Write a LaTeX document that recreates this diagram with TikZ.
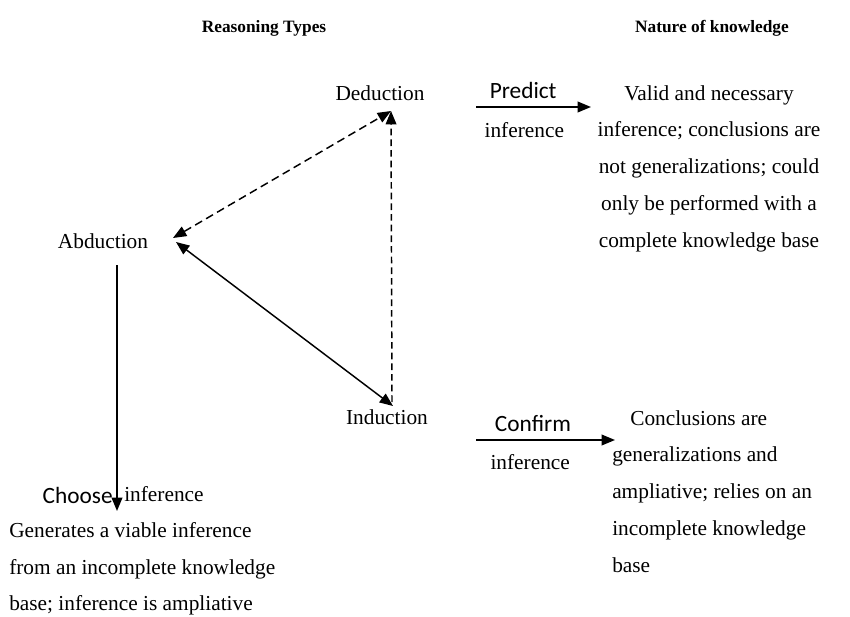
\documentclass[tikz,border=0pt]{standalone}
\usepackage{fontspec}
\setmainfont{Liberation Serif}
\newfontfamily\verbfont{Carlito}
\usepackage{tikz}
\usetikzlibrary{arrows.meta}

\begin{document}
\begin{tikzpicture}[
			x=0.75pt, y=-0.75pt,
			every node/.style={font=\fontsize{16}{27.6}\selectfont, inner sep=0pt},
			head/.style={font=\fontsize{13}{16}\selectfont\bfseries},
			verb/.style={font=\fontsize{17.5}{20}\selectfont\verbfont},
			link/.style={-{Triangle[length=10pt,width=8pt]}, line width=1.1pt},
			both/.style={{Triangle[length=10pt,width=8pt]}-{Triangle[length=10pt,width=8pt]}, line width=1.1pt},
			dashline/.style={dash pattern=on 6pt off 3.5pt}]
			\useasboundingbox (0,0) rectangle (850,617);
			\node[head] (types) at (264,28) {Reasoning Types};
			\node[head] (nature) at (712,28) {Nature of knowledge};
			\node (ded) at (380,93) {Deduction};
			\node (abd) at (103,241) {Abduction};
			\node (ind) at (387,417) {Induction};
			\coordinate (tritop) at (391,111);
			\coordinate (trileft) at (173,238);
			\coordinate (trileftb) at (176,242);
			\coordinate (tribot) at (393,406);
			\coordinate (trifoot) at (392,402);
			\draw[both, dashline] (trileft) -- (tritop);
			\draw[link, dash pattern=on 5pt off 3pt] (trifoot) -- (tritop);
			\draw[both] (trileftb) -- (tribot);
			\coordinate (p1) at (476,107);
			\coordinate (p2) at (591,107);
			\draw[link] (p1) -- node[verb, pos=0.41, above=5.5pt] (predict) {Predict}
				node[pos=0.42, below=11pt] (pinf) {inference} (p2);
			\coordinate (c1) at (476,440);
			\coordinate (c2) at (615,440);
			\draw[link] (c1) -- node[verb, pos=0.41, above=6pt] (confirm) {Confirm}
				node[pos=0.39, below=10pt] (cinf) {inference} (c2);
			\coordinate (a1) at (117,265);
			\coordinate (a2) at (117,511);
			\draw[link] (a1) -- (a2);
			\node[verb, anchor=east] (choose) at (113,495) {Choose};
			\node[anchor=west] (chinf) at (124,494) {inference};
			\node[align=center, anchor=north] (dednote) at (709,85) {Valid and necessary\\
				inference; conclusions are\\
				not generalizations; could\\
				only be performed with a\\
				complete knowledge base};
			\node[align=left, anchor=north west] (indnote) at (612,410) {\hspace*{13.5pt}Conclusions are\\
				generalizations and\\
				ampliative; relies on an\\
				incomplete knowledge\\
				base};
			\node[align=left, anchor=north west] (abdnote) at (9,522) {Generates a viable inference\\
				from an incomplete knowledge\\
				base; inference is ampliative};
		\end{tikzpicture}
\end{document}
